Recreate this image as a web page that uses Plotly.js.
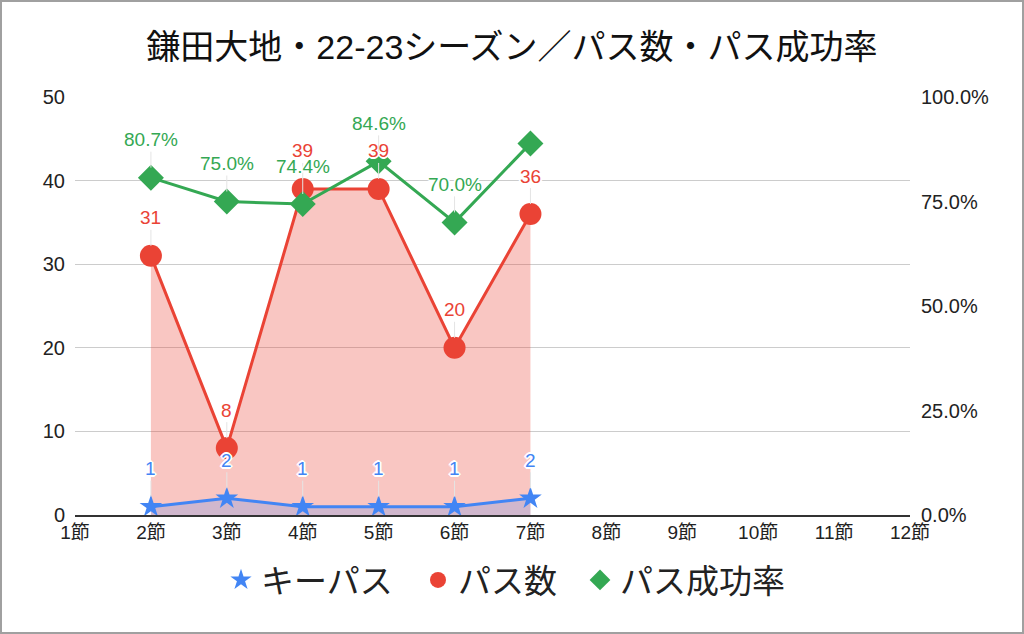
<!DOCTYPE html>
<html><head><meta charset="utf-8">
<script src="https://cdn.plot.ly/plotly-3.0.1.min.js"></script>
<style>
html,body{margin:0;padding:0;background:#fff;}
#wrap{position:relative;width:1024px;height:634px;}
#chart{width:1024px;height:634px;}
#frame{position:absolute;left:0;top:0;width:1020px;height:630px;border:2px solid #a0a0a0;pointer-events:none;}
</style></head>
<body><div id="wrap"><div id="chart"></div><div id="frame"></div></div>
<script>
const categories = ['1節','2節','3節','4節','5節','6節','7節','8節','9節','10節','11節','12節'];
const rounds = ['2節','3節','4節','5節','6節','7節'];
const keyPasses = [1, 2, 1, 1, 1, 2];
const passes = [31, 8, 39, 39, 20, 36];
const passRate = [0.807, 0.750, 0.744, 0.846, 0.700, 0.889];
const passRateLabelShown = [true, true, true, true, true, false];

const BLUE = '#4285F4', RED = '#EA4335', GREEN = '#34A853';
const FONT = 'Liberation Sans, Arial, Noto Sans CJK JP, sans-serif';

const traces = [
  {x: rounds, y: passes, type:'scatter', mode:'lines', fill:'tozeroy',
   fillcolor:'rgba(234,67,53,0.3)', line:{color:RED, width:3}, showlegend:false, hoverinfo:'skip'},
  {x: rounds, y: keyPasses, type:'scatter', mode:'lines', fill:'tozeroy',
   fillcolor:'rgba(66,133,244,0.22)', line:{color:BLUE, width:3}, showlegend:false, hoverinfo:'skip'},
  {x: rounds, y: keyPasses, type:'scatter', mode:'markers', name:'キーパス', legend:'legend',
   marker:{symbol:'star', size:17, color:BLUE}},
  {x: rounds, y: passes, type:'scatter', mode:'markers', name:'パス数', legend:'legend2',
   marker:{symbol:'circle', size:22, color:RED}},
  {x: rounds, y: passRate, type:'scatter', mode:'lines', yaxis:'y2',
   line:{color:GREEN, width:3}, showlegend:false, hoverinfo:'skip'},
  {x: rounds, y: passRate, type:'scatter', mode:'markers', name:'パス成功率', yaxis:'y2', legend:'legend3',
   marker:{symbol:'diamond', size:20, color:GREEN}}
];

const shadow = '-1px -1px 0 #fff, 1px -1px 0 #fff, -1px 1px 0 #fff, 1px 1px 0 #fff, 0 2px 0 #fff, 0 -2px 0 #fff, 2px 0 0 #fff, -2px 0 0 #fff';
function labels(xs, ys, texts, color, yref, shown){
  return xs.map((x,i)=>({
    x:x, y:ys[i], xref:'x', yref:yref, text:texts[i], showarrow:true,
    arrowhead:0, arrowwidth:1, arrowcolor:'#e4e4e4', ax:0, ay:-38, standoff:10,
    font:{family:FONT, size:19, color:color, shadow:shadow}, visible: shown ? shown[i] : true
  }));
}
const annotations = [
  ...labels(rounds, keyPasses, keyPasses.map(String), BLUE, 'y'),
  ...labels(rounds, passes, passes.map(String), RED, 'y'),
  ...labels(rounds, passRate, passRate.map(v=>(v*100).toFixed(1)+'%'), GREEN, 'y2', passRateLabelShown)
];

function legendAt(px){
  return {orientation:'h', xref:'container', x:px/1024, xanchor:'left', yref:'container', y:1-580/634, yanchor:'middle',
          font:{family:FONT, size:33, color:'#222'}, itemsizing:'trace', bgcolor:'rgba(0,0,0,0)'};
}

const layout = {
  width:1024, height:634,
  margin:{l:75, r:114, t:97, b:119},
  paper_bgcolor:'#fff', plot_bgcolor:'#fff',
  font:{family:FONT, color:'#222'},
  title:{text:'鎌田大地・22-23シーズン／パス数・パス成功率', font:{family:FONT, size:34, color:'#111'},
         x:0.5, xanchor:'center', xref:'container', y:1-47/634, yanchor:'middle', yref:'container'},
  xaxis:{type:'category', categoryorder:'array', categoryarray:categories, range:[0,11],
         tickvals:categories, ticktext:categories, showgrid:false, zeroline:false,
         showline:true, linecolor:'#333', linewidth:1.5, ticks:'', tickfont:{size:19, color:'#222'}},
  yaxis:{range:[0,50], dtick:10, gridcolor:'#cccccc', gridwidth:1, zeroline:false,
         ticks:'', tickfont:{size:20, color:'#222'}, ticklabelstandoff:9},
  yaxis2:{range:[0,1], dtick:0.25, tickformat:'.1%', overlaying:'y', side:'right',
          showgrid:false, zeroline:false, ticks:'', tickfont:{size:20, color:'#222'}, ticklabelstandoff:10},
  legend: legendAt(221),
  legend2: legendAt(418),
  legend3: legendAt(580),
  annotations: annotations,
  showlegend:true
};
Plotly.newPlot('chart', traces, layout, {displayModeBar:false, staticPlot:true});
</script></body></html>
